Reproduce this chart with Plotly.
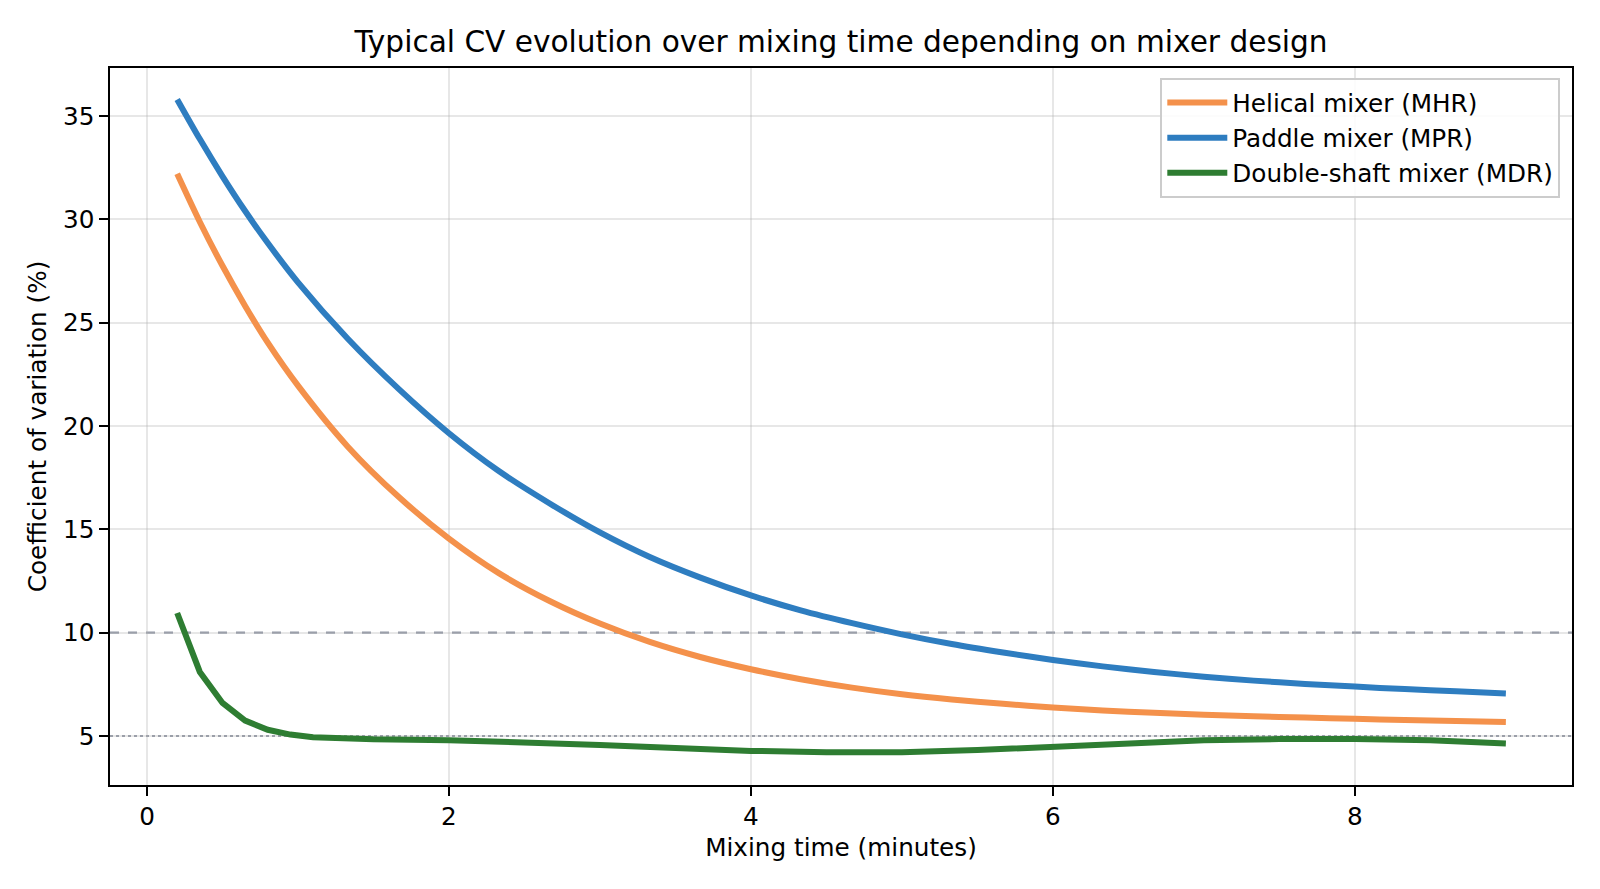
import plotly.graph_objects as go

# Data
t_smooth = [0.2, 0.35, 0.5, 0.65, 0.8, 1.0, 1.33, 1.67, 2.0, 2.33, 2.67, 3.0,
            3.33, 3.67, 4.0, 4.33, 4.67, 5.0, 5.33, 5.67, 6.0, 6.33, 6.67, 7.0,
            7.33, 7.67, 8.0, 8.33, 8.67, 9.0]
cv_helical = [32.2, 29.87, 27.75, 25.81, 24.03, 21.95, 19.0, 16.55, 14.55, 12.88, 11.52, 10.44,
              9.55, 8.81, 8.23, 7.75, 7.34, 7.02, 6.77, 6.56, 6.38, 6.24, 6.12, 6.03,
              5.96, 5.89, 5.83, 5.78, 5.73, 5.68]
cv_paddle = [35.8, 33.88, 32.08, 30.4, 28.85, 26.95, 24.22, 21.77, 19.65, 17.82, 16.24, 14.85,
             13.66, 12.65, 11.8, 11.08, 10.46, 9.92, 9.45, 9.04, 8.68, 8.37, 8.1, 7.87,
             7.68, 7.52, 7.39, 7.27, 7.16, 7.06]

t_double = [0.2, 0.35, 0.5, 0.65, 0.8, 0.95, 1.1, 1.3, 1.5, 2.0, 2.5, 3.0, 3.5, 4.0,
            4.5, 5.0, 5.5, 6.0, 6.5, 7.0, 7.5, 8.0, 8.5, 9.0]
cv_double = [10.95, 8.1, 6.6, 5.75, 5.3, 5.07, 4.94, 4.87, 4.84, 4.8, 4.7, 4.57, 4.42, 4.28,
             4.22, 4.22, 4.32, 4.5, 4.66, 4.79, 4.85, 4.86, 4.79, 4.64]

x_ticks = [0, 2, 4, 6, 8]
y_ticks = [5, 10, 15, 20, 25, 30, 35]
threshold_good = 10
threshold_excellent = 5

FONT = "DejaVu Sans"
FS = 24.7

fig = go.Figure()
fig.add_trace(go.Scatter(x=t_smooth, y=cv_helical, mode="lines", name="Helical mixer (MHR)",
                         line=dict(color="#F4914B", width=6, shape="spline", smoothing=0.8)))
fig.add_trace(go.Scatter(x=t_smooth, y=cv_paddle, mode="lines", name="Paddle mixer (MPR)",
                         line=dict(color="#2E7DC0", width=6, shape="spline", smoothing=0.8)))
fig.add_trace(go.Scatter(x=t_double, y=cv_double, mode="lines", name="Double-shaft mixer (MDR)",
                         line=dict(color="#2E7D32", width=6)))

fig.add_hline(y=threshold_good, line=dict(color="rgba(110,118,138,0.75)", width=2.2, dash="dash"), layer="below")
fig.add_hline(y=threshold_excellent, line=dict(color="rgba(110,118,138,0.75)", width=2.2, dash="dot"), layer="below")

axis_common = dict(
    showline=True, linecolor="black", linewidth=2, mirror=True,
    ticks="outside", ticklen=8.6, tickwidth=2, tickcolor="black",
    showgrid=True, gridcolor="rgba(176,176,176,0.3)", gridwidth=2,
    zeroline=False, tickfont=dict(family=FONT, size=FS, color="black"),
)

fig.update_layout(
    width=1600, height=889,
    paper_bgcolor="white", plot_bgcolor="white",
    margin=dict(l=102, r=36, t=60, b=112),
    font=dict(family=FONT, size=FS, color="black"),
    title=dict(text="Typical CV evolution over mixing time depending on mixer design",
               x=0.5, xanchor="center", xref="paper", y=1 - 34 / 889, yref="container",
               yanchor="middle", font=dict(family=FONT, size=29.6, color="black")),
    xaxis=dict(range=[-0.245, 9.438], tickvals=x_ticks,
               title=dict(text="Mixing time (minutes)", standoff=8,
                          font=dict(family=FONT, size=FS)), **axis_common),
    yaxis=dict(range=[2.63, 37.32], tickvals=y_ticks,
               title=dict(text="Coefficient of variation (%)", standoff=9,
                          font=dict(family=FONT, size=FS)), **axis_common),
    legend=dict(x=0.992, y=0.986, xanchor="right", yanchor="top",
                bgcolor="rgba(255,255,255,0.85)", bordercolor="#CCCCCC", borderwidth=2,
                font=dict(family=FONT, size=FS), itemwidth=60),
    showlegend=True,
)

fig.write_html("out.html")
